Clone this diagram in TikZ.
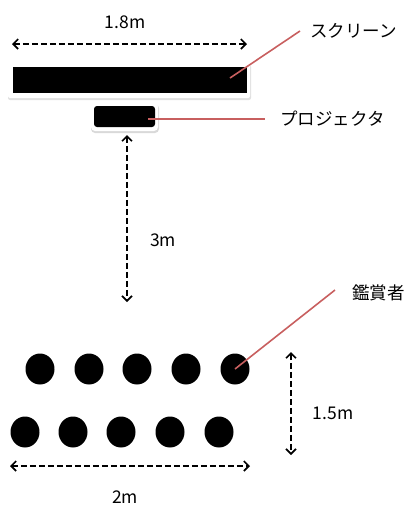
\documentclass[tikz,border=0pt]{standalone}
\usepackage{fontspec}
\setmainfont{Noto Sans CJK JP}
\usetikzlibrary{arrows.meta,shapes.geometric}
\definecolor{leader}{RGB}{200,95,95}
\tikzset{
  dim/.style={line width=1.6pt, dash pattern=on 6pt off 3pt, {Straight Barb[length=5pt,width=10pt,line width=1.6pt]}-{Straight Barb[length=5pt,width=10pt,line width=1.6pt]}},
  lead/.style={draw=leader, line width=1.6pt},
  lbl/.style={font=\fontsize{17.5}{20}\selectfont, inner sep=0pt},
  seat/.style={ellipse, fill=black, minimum width=29pt, minimum height=31pt, inner sep=0pt},
  blk/.style={fill=black}
}
\begin{document}
\begin{tikzpicture}[x=1pt,y=-1pt]
\useasboundingbox (0,0) rectangle (410,512);
% screen
\fill[black!12, rounded corners=2pt] (8,65) rectangle (251,100);
\fill[white, rounded corners=2pt] (8,63) rectangle (250,98);
\node[blk, minimum width=234pt, minimum height=26pt, inner sep=0pt] (screen) at (129.5,80) {};
% projector
\fill[black!15, rounded corners=4pt] (91,104) rectangle (159,133);
\fill[white, rounded corners=4pt] (91,102) rectangle (158,131);
\node[blk, rounded corners=3pt, minimum width=61pt, minimum height=21pt, inner sep=0pt] (proj) at (124.5,116.5) {};
% labels
\node[lbl] (l18) at (125,22) {1.8m};
\node[lbl, anchor=west] (lscreen) at (310,31) {スクリーン};
\node[lbl, anchor=west] (lproj) at (280,119) {プロジェクタ};
\node[lbl] (l3) at (163,240) {3m};
\node[lbl, anchor=west] (laud) at (352,293) {鑑賞者};
\node[lbl] (l15) at (333,413) {1.5m};
\node[lbl] (l2) at (125,497) {2m};
% dimension coordinates
\coordinate (a1) at (12,44); \coordinate (a2) at (247,44);
\coordinate (b1) at (127,135); \coordinate (b2) at (127,302);
\coordinate (c1) at (291,352); \coordinate (c2) at (291,455);
\coordinate (d1) at (10,466); \coordinate (d2) at (250,466);
\draw[dim] (a1) -- (a2);
\draw[dim] (b1) -- (b2);
\draw[dim] (c1) -- (c2);
\draw[dim] (d1) -- (d2);
% seats
\foreach \x [count=\i] in {40,89,137,186,235} \node[seat] (s1\i) at (\x,369) {};
\foreach \x [count=\i] in {25,73,121,170,219} \node[seat] (s2\i) at (\x,432) {};
% leaders
\coordinate (e1) at (300,31);
\coordinate (e2) at (265,119);
\coordinate (e3) at (335,290);
\coordinate (sp) at (230,78);
\coordinate (pp) at (148,119);
\draw[lead] (sp) -- (e1);
\draw[lead] (pp) -- (e2);
\draw[lead] (s15.center) -- (e3);
\end{tikzpicture}
\end{document}
